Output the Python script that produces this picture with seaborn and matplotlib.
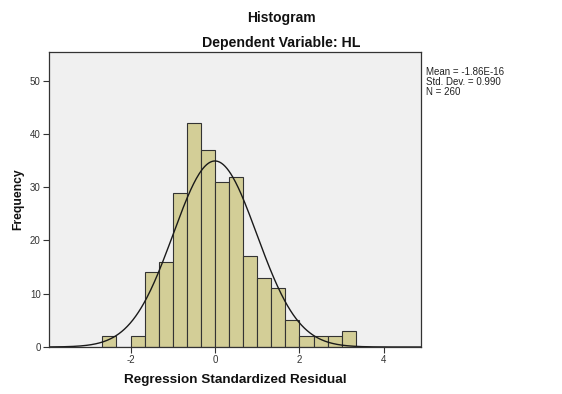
import numpy as np
import pandas as pd
import matplotlib
matplotlib.use("Agg")
import matplotlib.pyplot as plt
import seaborn as sns

# Data
bin_edges = [-8/3, -7/3, -6/3, -5/3, -4/3, -3/3, -2/3, -1/3, 0, 1/3, 2/3, 1,
             4/3, 5/3, 2, 7/3, 8/3, 3, 10/3]
counts = [2, 0, 2, 14, 16, 29, 42, 37, 31, 32, 17, 13, 11, 5, 2, 2, 2, 3]
mean_val = -1.86e-16
std_val = 0.990
n_val = 260
x_ticks = [-2, 0, 2, 4]
y_ticks = [0, 10, 20, 30, 40, 50]

sns.set_style("white")
plt.rcParams['font.family'] = ['Liberation Sans', 'DejaVu Sans']

fig = plt.figure(figsize=(5.62, 3.94), dpi=100)
ax = fig.add_axes([0.0872, 0.1193, 0.662, 0.749])
ax.set_facecolor("#f0f0f0")

centers = [(bin_edges[i] + bin_edges[i + 1]) / 2 for i in range(len(counts))]
df = pd.DataFrame({"resid": centers, "count": counts})
sns.histplot(data=df, x="resid", weights="count", bins=bin_edges, ax=ax,
             color="#d3ce97", alpha=1, edgecolor="#333333", linewidth=0.8)

xlim = (-3.93, 4.88)
width = bin_edges[1] - bin_edges[0]
xs = np.linspace(xlim[0], xlim[1], 400)
ys = n_val * width * np.exp(-0.5 * ((xs - mean_val) / std_val) ** 2) / (std_val * np.sqrt(2 * np.pi))
sns.lineplot(x=xs, y=ys, ax=ax, color="#1a1a1a", linewidth=1.0)

ax.set_xlim(*xlim)
ax.set_ylim(0, 55.4)
ax.set_xticks(x_ticks)
ax.set_yticks(y_ticks)
ax.set_xticklabels([str(t) for t in x_ticks])
ax.tick_params(axis="both", labelsize=7, length=4, width=0.8, direction="out",
               colors="#333333", pad=2, bottom=True, left=True)
for s in ax.spines.values():
    s.set_color("#333333")
    s.set_linewidth(0.9)

ax.set_xlabel("Regression Standardized Residual", fontsize=9.7, fontweight="bold",
              labelpad=6, color="#111111")
ax.set_ylabel("Frequency", fontsize=8.7, fontweight="bold", labelpad=4, color="#111111")

fig.text(0.5, 0.955, "Histogram", ha="center", va="center", fontsize=10,
         fontweight="bold", color="#111111")
fig.text(0.5, 0.89, "Dependent Variable: HL", ha="center", va="center", fontsize=10.2,
         fontweight="bold", color="#111111")
fig.text(0.758, 0.792, f"Mean = -1.86E-16\nStd. Dev. = {std_val:.3f}\nN = {n_val}",
         ha="left", va="center", fontsize=7, linespacing=1.0, color="#222222")

fig.savefig("out.png", dpi=100)
